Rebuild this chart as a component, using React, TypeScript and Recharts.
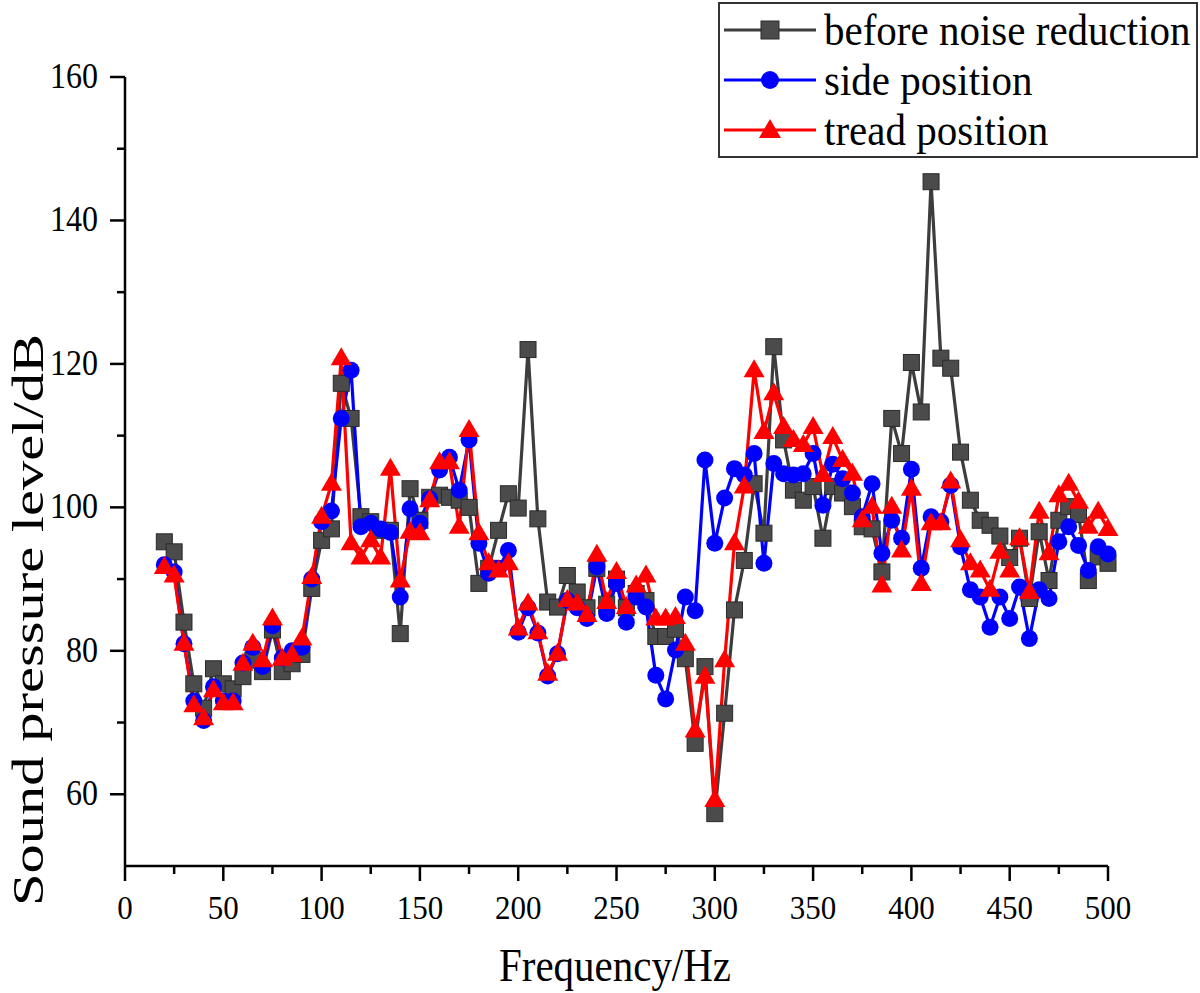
import React from 'react';
import { LineChart, Line, XAxis, YAxis, Legend } from 'recharts';

// frequency points, Hz
const freq = [
  20, 25, 30, 35, 40, 45, 50, 55, 60, 65, 70, 75, 80, 85, 90, 95, 100,
  105, 110, 115, 120, 125, 130, 135, 140, 145, 150, 155, 160, 165, 170, 175, 180,
  185, 190, 195, 200, 205, 210, 215, 220, 225, 230, 235, 240, 245, 250, 255, 260,
  265, 270, 275, 280, 285, 290, 295, 300, 305, 310, 315, 320, 325, 330, 335, 340,
  345, 350, 355, 360, 365, 370, 375, 380, 385, 390, 395, 400, 405, 410, 415, 420,
  425, 430, 435, 440, 445, 450, 455, 460, 465, 470, 475, 480, 485, 490, 495, 500,
];

// sound pressure level, dB
const beforeNR = [
  95.2, 93.8, 84, 75.4, 72, 77.5, 75.4, 74.7, 76.4, 78.7, 77.1, 82.9, 77.1, 78.2, 79.5, 88.7, 95.4,
  97, 117.3, 112.4, 98.7, 98, 96.8, 96.8, 82.4, 102.6, 98.2, 101.4, 101.7, 101.4, 101, 100, 89.4,
  91.5, 96.8, 101.9, 99.9, 122, 98.4, 86.8, 86.1, 90.5, 88.2, 86, 91.5, 86.5, 90, 86, 88,
  87, 82, 82, 83, 78.9, 67.1, 77.8, 57.3, 71.3, 85.7, 92.6, 103.3, 96.4, 122.4, 109.4, 102.4,
  101, 102.9, 95.7, 102.9, 102, 100.1, 97.3, 97, 91, 112.4, 107.5, 120.2, 113.3, 145.4, 120.8, 119.4,
  107.7, 101, 98.2, 97.5, 96, 93, 95.7, 87.3, 96.6, 89.8, 98.2, 100.1, 99, 89.8, 93.1, 92.2,
];

const sidePos = [
  92, 91, 81, 73, 70.3, 75, 73, 73, 78.3, 80.5, 77.8, 83.5, 79, 80, 80.5, 90, 98,
  99.5, 112.4, 119.1, 97.3, 97.8, 97, 96.5, 87.5, 99.8, 97.8, 101.2, 105.2, 107, 102.4, 109.4, 95,
  90.8, 91.5, 94, 82.6, 86, 82.5, 76.5, 79.6, 87, 86, 84.5, 91.7, 85.2, 89.4, 84, 87.5,
  86.1, 76.6, 73.3, 80.1, 87.5, 85.6, 106.6, 95, 101.3, 105.4, 104.5, 107.5, 92.2, 106.1, 104.7, 104.5,
  104.7, 107.5, 100.3, 106, 104, 102, 98.7, 103.3, 93.6, 98.2, 95.7, 105.3, 91.5, 98.7, 98, 103.1,
  94.5, 88.5, 87.5, 83.3, 87.5, 84.5, 88.9, 81.7, 88.5, 87.3, 95.2, 97.3, 94.7, 91.2, 94.5, 93.5,
];

const treadPos = [
  91.7, 90.5, 81, 72.4, 70.6, 74.5, 72.7, 72.7, 78.2, 81, 78.7, 84.5, 78.9, 79.4, 81.7, 90.3, 98.7,
  103.3, 120.8, 95, 93, 95.4, 93, 105.4, 89.8, 96.6, 96.4, 101, 106.3, 106.3, 97.3, 110.8, 96.4,
  92.2, 91.2, 92.2, 83.1, 86.6, 82.6, 76.8, 79.6, 87.1, 86.6, 85, 93.4, 86.8, 91, 86.1, 89.1,
  90.5, 84.5, 84.5, 84.7, 81, 68.9, 76.4, 59.2, 78.7, 95, 102.9, 119.1, 110.5, 115.9, 111.2, 109.4,
  108.7, 111.2, 104.5, 109.8, 106.6, 104.7, 98.2, 100.1, 89.1, 100.1, 94, 102.6, 89.3, 97.8, 97.8, 103.6,
  95.4, 92.2, 91.2, 88.5, 93.8, 91.2, 95.7, 88.2, 99.4, 93.6, 101.7, 103.3, 100.8, 97.3, 99.4, 97,
];

const xTicks = [0, 25, 50, 75, 100, 125, 150, 175, 200, 225, 250, 275, 300, 325, 350, 375, 400, 425, 450, 475, 500];
const yTicks = [60, 70, 80, 90, 100, 110, 120, 130, 140, 150, 160];

const data = freq.map((f, i) => ({
  f,
  before: beforeNR[i],
  side: sidePos[i],
  tread: treadPos[i],
}));

const FONT = '"Liberation Serif", "Times New Roman", serif';
const BLACK = '#3d3d3d';
const BLUE = '#0000ff';
const RED = '#ff0000';

function SquareDot(p: any) {
  if (p.cx == null || p.cy == null) return null;
  return <rect x={p.cx - 8} y={p.cy - 8} width={16} height={16} fill="#4b4b4b" stroke="#2a2a2a" strokeWidth={1} />;
}

function CircleDot(p: any) {
  if (p.cx == null || p.cy == null) return null;
  return <circle cx={p.cx} cy={p.cy} r={8.5} fill={BLUE} />;
}

function TriangleDot(p: any) {
  if (p.cx == null || p.cy == null) return null;
  const { cx, cy } = p;
  return <polygon points={`${cx},${cy - 11} ${cx - 10.5},${cy + 7} ${cx + 10.5},${cy + 7}`} fill={RED} />;
}

function XTick({ x, y, payload }: any) {
  const major = payload.value % 50 === 0;
  return (
    <g>
      <line x1={x} y1={y} x2={x} y2={y + (major ? 15 : 8)} stroke="#000" strokeWidth={2.5} />
      {major && (
        <text transform={`translate(${x}, ${y + 53}) scale(1, 1.12)`} textAnchor="middle" fontFamily={FONT} fontSize={31} fill="#000">
          {payload.value}
        </text>
      )}
    </g>
  );
}

function YTick({ x, y, payload }: any) {
  const major = payload.value % 20 === 0;
  return (
    <g>
      <line x1={x} y1={y} x2={x - (major ? 15 : 8)} y2={y} stroke="#000" strokeWidth={2.5} />
      {major && (
        <text transform={`translate(${x - 27}, ${y + 11}) scale(1, 1.1)`} textAnchor="end" fontFamily={FONT} fontSize={32} fill="#000">
          {payload.value}
        </text>
      )}
    </g>
  );
}

const legendRows = [
  { name: 'before noise reduction', color: BLACK, shape: 'square' },
  { name: 'side position', color: BLUE, shape: 'circle' },
  { name: 'tread position', color: RED, shape: 'triangle' },
];

function LegendBox() {
  return (
    <div
      style={{
        position: 'relative',
        width: 480,
        height: 156,
        boxSizing: 'border-box',
        border: '2px solid #333',
        background: '#fff',
      }}
    >
      {legendRows.map((r, i) => (
        <div
          key={r.name}
          style={{ position: 'absolute', left: 0, top: 4 + i * 50, height: 44, display: 'flex', alignItems: 'center' }}
        >
          <svg width={104} height={44} style={{ display: 'block' }}>
            <line x1={4} y1={22} x2={96} y2={22} stroke={r.color} strokeWidth={3} />
            {r.shape === 'square' && <rect x={41} y={13} width={18} height={18} fill="#4b4b4b" stroke="#2a2a2a" />}
            {r.shape === 'circle' && <circle cx={50} cy={22} r={9} fill={BLUE} />}
            {r.shape === 'triangle' && <polygon points="50,11 39,30 61,30" fill={RED} />}
          </svg>
          <span
            style={{
              fontFamily: FONT,
              fontSize: 41,
              lineHeight: '44px',
              color: '#000',
              whiteSpace: 'nowrap',
              display: 'inline-block',
              transform: 'scaleY(1.1)',
            }}
          >
            {r.name}
          </span>
        </div>
      ))}
    </div>
  );
}

export default function App() {
  return (
    <div style={{ position: 'absolute', left: 0, top: 0, width: 1200, height: 993, background: '#fff' }}>
      <LineChart width={1200} height={993} data={data} margin={{ top: 77, right: 92, bottom: 0, left: 0 }}>
        <XAxis
          dataKey="f"
          type="number"
          domain={[0, 500]}
          ticks={xTicks}
          interval={0}
          tickSize={0}
          tickMargin={0}
          tick={<XTick />}
          height={127}
          axisLine={{ stroke: '#000', strokeWidth: 2.5 }}
          label={{
            content: () => (
              <text
                transform="translate(615, 981) scale(1, 1.12)"
                textAnchor="middle"
                fontFamily={FONT}
                fontSize={42}
                fill="#000"
                textLength={232}
                lengthAdjust="spacingAndGlyphs"
              >
                Frequency/Hz
              </text>
            ),
          }}
        />
        <YAxis
          type="number"
          domain={[50, 160]}
          ticks={yTicks}
          interval={0}
          tickSize={0}
          tickMargin={0}
          tick={<YTick />}
          width={125}
          axisLine={{ stroke: '#000', strokeWidth: 2.5 }}
          label={{
            content: () => (
              <text
                transform="translate(43, 620) rotate(-90)"
                textAnchor="middle"
                fontFamily={FONT}
                fontSize={45}
                fill="#000"
                textLength={572}
                lengthAdjust="spacingAndGlyphs"
              >
                Sound pressure level/dB
              </text>
            ),
          }}
        />
        <Legend
          layout="horizontal"
          verticalAlign="middle"
          align="center"
          content={() => <LegendBox />}
          wrapperStyle={{ position: 'absolute', left: 718, top: 2, width: 480, height: 156 }}
        />
        <Line type="linear" dataKey="before" name="before noise reduction" stroke={BLACK} strokeWidth={3.2} dot={<SquareDot />} activeDot={false} isAnimationActive={false} />
        <Line type="linear" dataKey="side" name="side position" stroke={BLUE} strokeWidth={3.2} dot={<CircleDot />} activeDot={false} isAnimationActive={false} />
        <Line type="linear" dataKey="tread" name="tread position" stroke={RED} strokeWidth={3.2} dot={<TriangleDot />} activeDot={false} isAnimationActive={false} />
      </LineChart>
    </div>
  );
}
